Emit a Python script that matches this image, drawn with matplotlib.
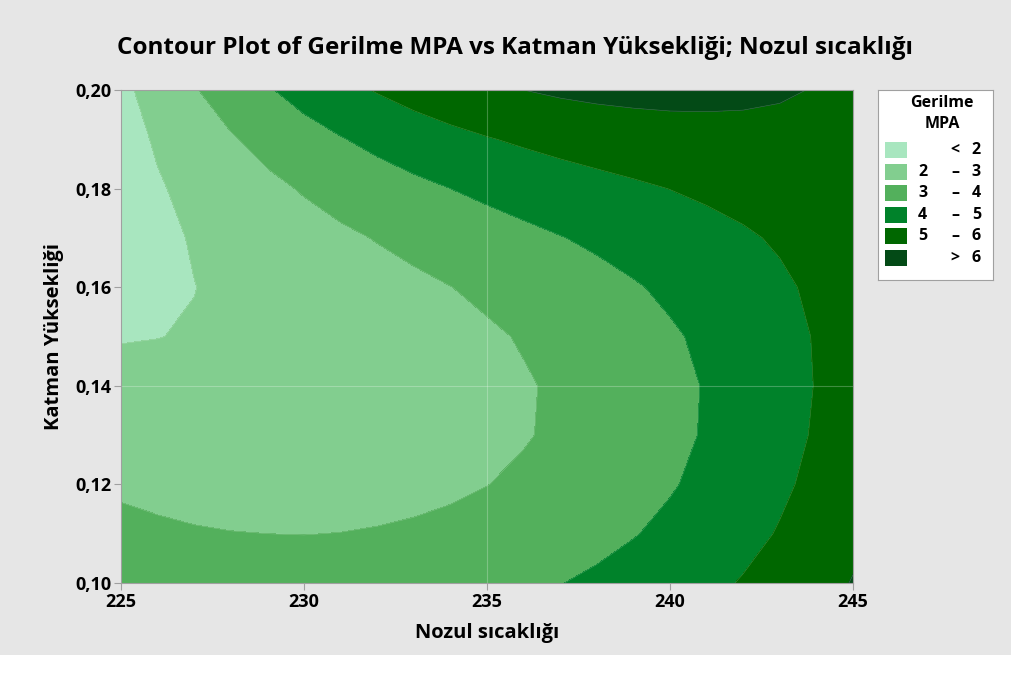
import numpy as np
import matplotlib.pyplot as plt
from matplotlib.patches import Rectangle

plt.rcParams['font.family'] = ['Open Sans', 'DejaVu Sans']

# Grid of Gerilme MPA values
nozul = [225, 226, 227, 228, 229, 230, 231, 232, 233, 234, 235,
         236, 237, 238, 239, 240, 241, 242, 243, 244, 245]
katman = [0.10, 0.11, 0.12, 0.13, 0.14, 0.15, 0.16, 0.17, 0.18, 0.19, 0.20]
gerilme = [
    [3.51, 3.45, 3.41, 3.39, 3.38, 3.39, 3.42, 3.46, 3.52, 3.61, 3.71, 3.83, 3.98, 4.15, 4.34, 4.55, 4.79, 5.06, 5.36, 5.68, 6.04],
    [3.21, 3.13, 3.06, 3.02, 3.00, 2.99, 3.01, 3.05, 3.11, 3.19, 3.29, 3.42, 3.58, 3.75, 3.96, 4.19, 4.45, 4.74, 5.06, 5.42, 5.80],
    [2.88, 2.79, 2.73, 2.68, 2.66, 2.66, 2.68, 2.72, 2.78, 2.87, 2.99, 3.12, 3.29, 3.47, 3.69, 3.93, 4.21, 4.51, 4.85, 5.21, 5.62],
    [2.54, 2.47, 2.43, 2.40, 2.39, 2.41, 2.44, 2.50, 2.58, 2.68, 2.81, 2.95, 3.12, 3.32, 3.54, 3.79, 4.07, 4.38, 4.72, 5.08, 5.48],
    [2.23, 2.20, 2.19, 2.20, 2.23, 2.27, 2.33, 2.41, 2.51, 2.63, 2.77, 2.93, 3.11, 3.31, 3.53, 3.78, 4.05, 4.35, 4.68, 5.03, 5.41],
    [1.96, 1.99, 2.04, 2.10, 2.17, 2.26, 2.36, 2.47, 2.59, 2.73, 2.89, 3.06, 3.24, 3.44, 3.66, 3.90, 4.15, 4.43, 4.73, 5.05, 5.39],
    [1.76, 1.87, 1.99, 2.12, 2.25, 2.38, 2.53, 2.68, 2.83, 2.99, 3.16, 3.34, 3.53, 3.72, 3.93, 4.15, 4.38, 4.62, 4.87, 5.14, 5.43],
    [1.63, 1.84, 2.05, 2.25, 2.46, 2.65, 2.85, 3.04, 3.23, 3.42, 3.60, 3.79, 3.97, 4.15, 4.34, 4.52, 4.71, 4.90, 5.09, 5.29, 5.50],
    [1.59, 1.92, 2.23, 2.52, 2.80, 3.07, 3.33, 3.56, 3.79, 4.00, 4.20, 4.38, 4.56, 4.72, 4.87, 5.01, 5.15, 5.27, 5.38, 5.49, 5.60],
    [1.64, 2.10, 2.52, 2.92, 3.29, 3.64, 3.95, 4.24, 4.50, 4.74, 4.95, 5.13, 5.29, 5.42, 5.52, 5.61, 5.67, 5.71, 5.73, 5.72, 5.70],
    [1.79, 2.38, 2.94, 3.45, 3.92, 4.34, 4.72, 5.06, 5.36, 5.62, 5.83, 6.00, 6.14, 6.23, 6.28, 6.29, 6.26, 6.20, 6.10, 5.96, 5.78],
]
levels = [2, 3, 4, 5, 6]
legend_labels = [('', '<', '2'), ('2', '–', '3'), ('3', '–', '4'),
                 ('4', '–', '5'), ('5', '–', '6'), ('', '>', '6')]
colors = ['#a8e6bf', '#82ce8f', '#53b05c', '#00822a', '#006700', '#034a16']

fig = plt.figure(figsize=(10.12, 6.75), dpi=100)
fig.patch.set_facecolor('#e6e6e6')
fig.patches.append(Rectangle((0, 0), 1, 20 / 675, transform=fig.transFigure,
                             facecolor='white', edgecolor='none', zorder=0))

ax = fig.add_axes([121 / 1012, 1 - 583 / 675, 732 / 1012, 493 / 675])
X, Y = np.meshgrid(nozul, katman)
Z = np.array(gerilme)
ax.contourf(X, Y, Z, levels=[-100] + levels + [100], colors=colors)
ax.contour(X, Y, Z, levels=levels, colors='white', linewidths=0.4, alpha=0.25)
ax.axvline(235, color='white', lw=0.8, alpha=0.25)
ax.axhline(0.14, color='white', lw=0.8, alpha=0.25)

ax.set_xlim(225, 245)
ax.set_ylim(0.10, 0.20)
ax.set_xticks([225, 230, 235, 240, 245])
ax.set_yticks([0.10, 0.12, 0.14, 0.16, 0.18, 0.20])
ax.set_yticklabels([f'{v:.2f}'.replace('.', ',') for v in [0.10, 0.12, 0.14, 0.16, 0.18, 0.20]])
for s in ax.spines.values():
    s.set_color('#a0a0a0')
ax.tick_params(colors='#a0a0a0', labelcolor='black', labelsize=13, length=5, pad=2)
for lab in ax.get_xticklabels() + ax.get_yticklabels():
    lab.set_fontweight('bold')

ax.set_xlabel('Nozul sıcaklığı', fontsize=14.5, fontweight='bold', labelpad=9)
ax.set_ylabel('Katman Yüksekliği', fontsize=14.5, fontweight='bold', labelpad=8)
fig.text(515 / 1012, 1 - 48 / 675,
         'Contour Plot of Gerilme MPA vs Katman Yüksekliği; Nozul sıcaklığı',
         ha='center', va='center', fontsize=17.5, fontweight='bold')

# legend box
lax = fig.add_axes([878 / 1012, 1 - 280 / 675, 115 / 1012, 190 / 675])
lax.set_xlim(878, 993)
lax.set_ylim(280, 90)
lax.set_xticks([])
lax.set_yticks([])
lax.set_facecolor('white')
for s in lax.spines.values():
    s.set_color('#a0a0a0')
lax.text(942, 103, 'Gerilme', ha='center', va='center', fontsize=11.5, fontweight='bold')
lax.text(942, 124, 'MPA', ha='center', va='center', fontsize=11.5, fontweight='bold')
for i, (lo, sep, hi) in enumerate(legend_labels):
    yc = 150 + i * 21.6
    lax.add_patch(Rectangle((885, yc - 8), 22, 16, facecolor=colors[i], edgecolor='none'))
    lax.text(918, yc, lo, ha='left', va='center', fontsize=11.5, fontweight='bold')
    lax.text(955, yc, sep, ha='center', va='center', fontsize=11.5, fontweight='bold')
    lax.text(981, yc, hi, ha='right', va='center', fontsize=11.5, fontweight='bold')

fig.savefig('out.png', dpi=100, facecolor=fig.get_facecolor())
